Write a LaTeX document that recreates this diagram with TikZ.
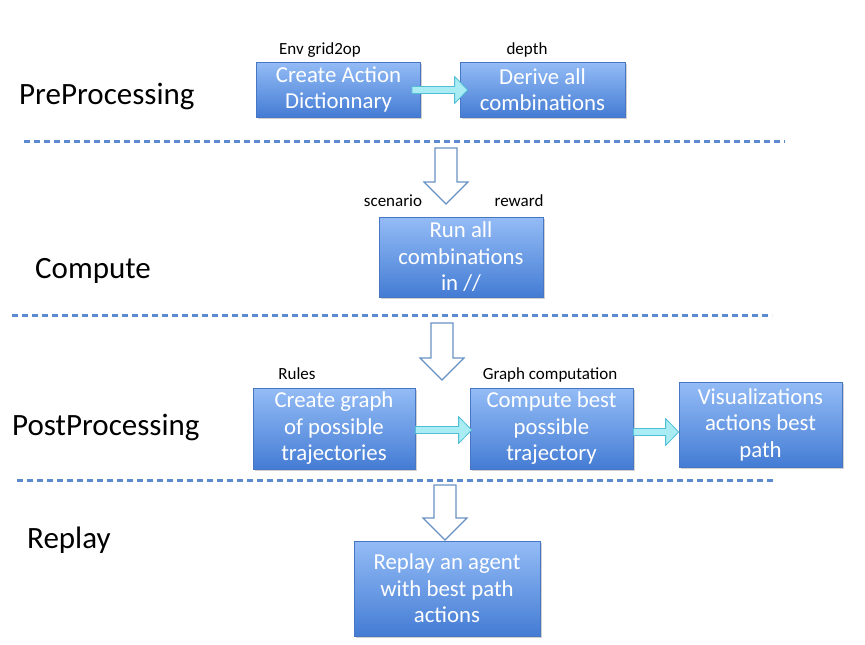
\documentclass[tikz,border=0pt]{standalone}
\usepackage{fontspec}
\setmainfont{Carlito}
\usetikzlibrary{shadows,calc}
\definecolor{boxTop}{RGB}{148,188,246}
\definecolor{boxBot}{RGB}{68,124,212}
\definecolor{boxLine}{RGB}{70,118,196}
\definecolor{dashBlue}{RGB}{92,138,206}
\definecolor{cyanFill}{RGB}{170,236,244}
\definecolor{cyanLine}{RGB}{80,190,212}
\definecolor{hollowLine}{RGB}{105,145,195}
\tikzset{
  procbox/.style={draw=boxLine, line width=0.8pt, top color=boxTop, bottom color=boxBot,
    text=white, align=center, inner sep=0pt,
    font=\fontsize{22.8}{26.5}\selectfont,
    drop shadow={shadow xshift=1.5pt, shadow yshift=-2pt, opacity=.3, fill=black!60}},
  section/.style={anchor=base west, inner sep=0pt, font=\fontsize{31}{36}\selectfont},
  small/.style={anchor=base, inner sep=0pt, font=\fontsize{17}{20}\selectfont},
  sepline/.style={draw=dashBlue, line width=3pt, dash pattern=on 6pt off 4pt},
  cyanarrow/.style={draw=cyanLine, fill=cyanFill, line width=0.8pt, line join=round},
  hollow/.style={draw=hollowLine, fill=white, line width=1.1pt, line join=miter}
}
\newcommand\cyanarr[2]{%
  \draw[cyanarrow] let \p1=(#1), \p2=(#2) in
    (\x1,\y1+3.5pt) -- (\x2-13pt,\y1+3.5pt) -- (\x2-13pt,\y1+13.5pt) -- (\x2,\y1)
    -- (\x2-13pt,\y1-13.5pt) -- (\x2-13pt,\y1-3.5pt) -- (\x1,\y1-3.5pt) -- cycle;}
\newcommand\hollowarr[1]{%
  \draw[hollow] let \p1=(#1-top), \p2=(#1-tip) in
    (\x2-11pt,\y1) -- (\x2+11pt,\y1) -- (\x2+11pt,\y2+22pt) -- (\x2+22pt,\y2+22pt)
    -- (\x2,\y2) -- (\x2-22pt,\y2+22pt) -- (\x2-11pt,\y2+22pt) -- cycle;}
\begin{document}
\begin{tikzpicture}[x=1pt,y=-1pt]
\useasboundingbox (0,0) rectangle (865,645);

% section labels
\node[section] (pre) at (19,104) {PreProcessing};
\node[section] (comp) at (35,278) {Compute};
\node[section] (post) at (12,435) {PostProcessing};
\node[section] (rep) at (27,548) {Replay};

% separator lines
\coordinate (l1a) at (24,141); \coordinate (l1b) at (785,141);
\coordinate (l2a) at (12,315); \coordinate (l2b) at (772,315);
\coordinate (l3a) at (17,480); \coordinate (l3b) at (776,480);
\draw[sepline] (l1a) -- (l1b);
\draw[sepline] (l2a) -- (l2b);
\draw[sepline] (l3a) -- (l3b);

% boxes
\node[procbox, minimum width=164pt, minimum height=55pt] (b1) at (338.5,89.5) {Create Action\\Dictionnary};
\node[procbox, minimum width=165pt, minimum height=55pt] (b2) at (542.5,89.5) {Derive all\\combinations};
\node[procbox, minimum width=164pt, minimum height=80pt] (b3) at (461,257) {Run all\\combinations\\in //};
\node[procbox, minimum width=162pt, minimum height=81pt] (b4) at (334,428.5) {Create graph\\of possible\\trajectories};
\node[procbox, minimum width=163pt, minimum height=81pt] (b5) at (551.5,428.5) {Compute best\\possible\\trajectory};
\node[procbox, minimum width=163pt, minimum height=85pt] (b6) at (760.5,424.5) {Visualizations\\actions best\\path};
\node[procbox, minimum width=186pt, minimum height=95pt] (b7) at (447,588.5) {Replay an agent\\with best path\\actions};

% small labels
\node[small] (env) at (320,54) {Env grid2op};
\node[small] (depth) at (527,54) {depth};
\node[small] (scen) at (393,206) {scenario};
\node[small] (rew) at (519,206) {reward};
\node[small] (rules) at (297,379) {Rules};
\node[small] (gc) at (550,379) {Graph computation};

% cyan arrows
\coordinate (c1a) at ($(b1.east)+(-9,0.5)$);
\coordinate (c1b) at ($(b2.west)+(8,0.5)$);
\cyanarr{c1a}{c1b}
\coordinate (c2a) at (b4.east |- 0,430);
\coordinate (c2b) at ($(b5.west |- 0,430)+(2,0)$);
\cyanarr{c2a}{c2b}
\coordinate (c3a) at (b5.east |- 0,432);
\coordinate (c3b) at ($(b6.west |- 0,432)+(0,0)$);
\cyanarr{c3a}{c3b}

% hollow arrows
\coordinate (h1-top) at (446,148); \coordinate (h1-tip) at (446,204);
\coordinate (h2-top) at (442,323); \coordinate (h2-tip) at (442,380);
\coordinate (h3-top) at (445,485); \coordinate (h3-tip) at (445,540);
\hollowarr{h1}
\hollowarr{h2}
\hollowarr{h3}
\end{tikzpicture}
\end{document}
